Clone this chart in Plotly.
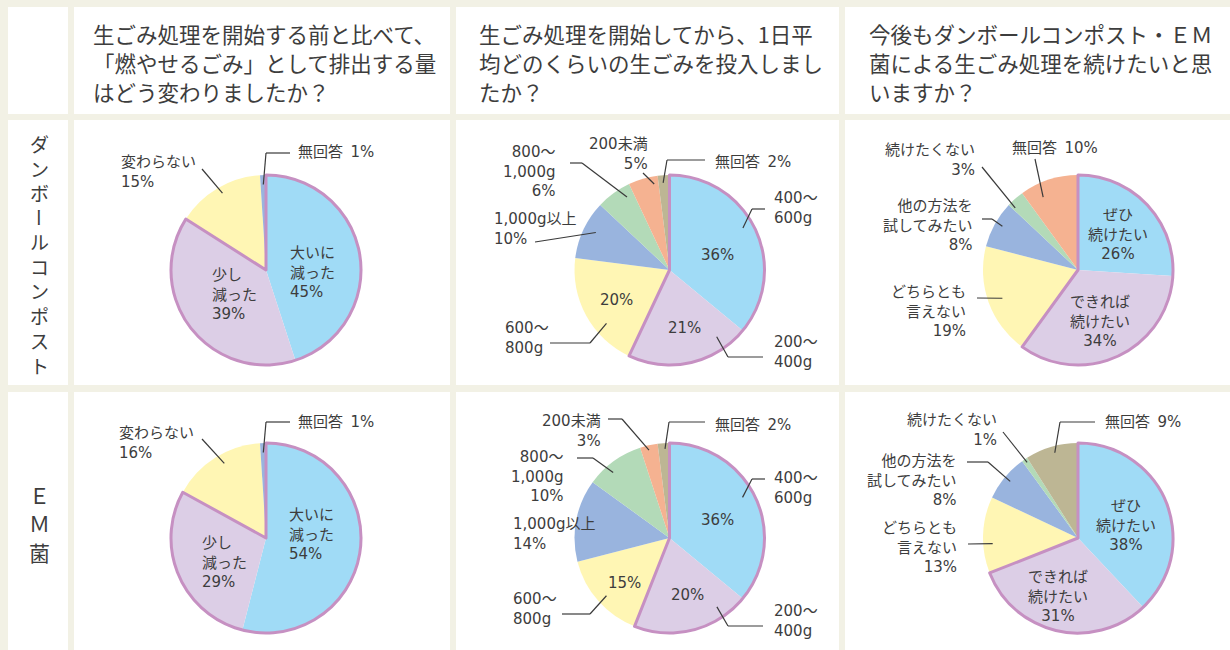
import math
import plotly.graph_objects as go

W, H = 1230, 650

# ---------------- data ----------------
q1_categories = ["大いに減った", "少し減った", "変わらない", "無回答"]
q1_danbo = [45, 39, 15, 1]
q1_em = [54, 29, 16, 1]

q2_categories = ["400～600g", "200～400g", "600～800g", "1,000g以上", "800～1,000g", "200未満", "無回答"]
q2_danbo = [36, 21, 20, 10, 6, 5, 2]
q2_em = [36, 20, 15, 14, 10, 3, 2]

q3_categories = ["ぜひ続けたい", "できれば続けたい", "どちらとも言えない", "他の方法を試してみたい", "続けたくない", "無回答"]
q3_danbo = [26, 34, 19, 8, 3, 10]
q3_em = [38, 31, 13, 8, 1, 9]

questions = [
    ["生ごみ処理を開始する前と比べて、", "「燃やせるごみ」として排出する量", "はどう変わりましたか？"],
    ["生ごみ処理を開始してから、1日平", "均どのくらいの生ごみを投入しまし", "たか？"],
    ["今後もダンボールコンポスト・ＥＭ", "菌による生ごみ処理を続けたいと思", "いますか？"],
]
row_labels = ["ダンボールコンポスト", "ＥＭ菌"]

# ---------------- styles ----------------
BG = "#f2f1e5"
TXT = "#3d3d3d"
LINE = "#3a3a3a"
PURPLE = "#c690c2"
BLUE, LAV, YEL, BLUE2 = "#a0dbf6", "#dccee6", "#fff6b4", "#99b4de"
GREEN, SALMON, KHAKI = "#b3dab8", "#f5b291", "#bdb694"
FONT = "Noto Sans CJK JP"
LABEL_FONT = "DejaVu Sans, Noto Sans CJK JP"
SP = "\u2002"

q1_colors = [BLUE, LAV, YEL, BLUE2]
q2_colors = [BLUE, LAV, YEL, BLUE2, GREEN, SALMON, KHAKI]
q3_colors_danbo = [BLUE, LAV, YEL, BLUE2, GREEN, SALMON]
q3_colors_em = [BLUE, LAV, YEL, BLUE2, GREEN, KHAKI]


def fx(x):
    return x / W


def fy(y):
    return 1 - y / H


def slice_point(cx, cy, r, values, i, t, rf):
    tot = float(sum(values))
    start = sum(values[:i]) / tot * 360.0
    ang = math.radians(start + values[i] / tot * 360.0 * t)
    return cx + r * rf * math.sin(ang), cy - r * rf * math.cos(ang)


R = 95
NA = "無回答" + SP + "{p}%"
pies = [
    # (categories, values, colors, cx, cy, label specs)
    (q1_categories, q1_danbo, q1_colors, 266, 270, [
        dict(i=3, lines=[NA], x=296, y=152, xa="left",
             leader=["A", (266, 153), (290, 153)], t=0.5, rf=0.9),
        dict(i=2, lines=["変わらない", "{p}%"], x=119, y=163, gap=18, xa="left",
             leader=[(202, 169), "A"], t=0.52, rf=0.93),
        dict(i=0, lines=["大いに", "減った", "{p}%"], x=288, y=255, gap=17.5, xa="left"),
        dict(i=1, lines=["少し", "減った", "{p}%"], x=210, y=275, gap=20, xa="left"),
    ]),
    (q1_categories, q1_em, q1_colors, 266, 538, [
        dict(i=3, lines=[NA], x=296, y=422, xa="left",
             leader=["A", (266, 422), (290, 422)], t=0.5, rf=0.9),
        dict(i=2, lines=["変わらない", "{p}%"], x=117, y=433, gap=19, xa="left",
             leader=[(202, 439), "A"], t=0.556, rf=0.9),
        dict(i=0, lines=["大いに", "減った", "{p}%"], x=287, y=515, gap=19, xa="left"),
        dict(i=1, lines=["少し", "減った", "{p}%"], x=200, y=544, gap=18, xa="left"),
    ]),
    (q2_categories, q2_danbo, q2_colors, 669.5, 270, [
        dict(i=5, lines=["200未満", "{p}%"], x=650, y=145, gap=18, xa="right",
             leader=[(643, 173), "A"], t=0.84, rf=0.92),
        dict(i=6, lines=[NA], x=713, y=162, xa="left",
             leader=["A", (667, 160), (705, 160)], t=0.42, rf=0.92),
        dict(i=4, lines=["800～", "1,000g", "{p}%"], x=557, y=152, gap=19, xa="right",
             leader=[(570, 163), (582, 163), "A"], t=0.77, rf=0.89),
        dict(i=3, lines=["1,000g以上", "{p}%"], x=492, y=220, gap=18, xa="left",
             leader=[(535, 242), "A"], t=0.55, rf=0.87),
        dict(i=0, lines=["400～", "600g"], x=772, y=200, gap=17, xa="left",
             leader=["A", (752, 209), (765, 209)], t=0.465, rf=0.89),
        dict(i=0, lines=["{p}%"], x=717, y=255, xa="center"),
        dict(i=2, lines=["{p}%"], x=616, y=300, xa="center"),
        dict(i=1, lines=["{p}%"], x=684, y=328, xa="center"),
        dict(i=2, lines=["600～", "800g"], x=503, y=329, gap=18, xa="left",
             leader=[(550, 343), (590, 343), "A"], t=0.34, rf=0.87),
        dict(i=1, lines=["200～", "400g"], x=772, y=343, gap=17, xa="left",
             leader=["A", (728, 357), (763, 357)], t=0.2, rf=0.86),
    ]),
    (q2_categories, q2_em, q2_colors, 669.5, 538, [
        dict(i=5, lines=["200未満", "{p}%"], x=603, y=422, gap=17, xa="right",
             leader=[(608, 419), (622, 419), "A"], t=0.45, rf=0.95),
        dict(i=6, lines=[NA], x=713, y=425, xa="left",
             leader=["A", (669, 422), (705, 422)], t=0.6, rf=0.94),
        dict(i=4, lines=["800～", "1,000g", "{p}%"], x=565, y=457, gap=19, xa="right",
             leader=[(577, 458), (593, 458), "A"], t=0.37, rf=0.91),
        dict(i=3, lines=["1,000g以上", "{p}%"], x=511, y=525, gap=18, xa="left"),
        dict(i=0, lines=["400～", "600g"], x=772, y=479, gap=18, xa="left",
             leader=["A", (752, 479), (765, 479)], t=0.47, rf=0.88),
        dict(i=0, lines=["{p}%"], x=717, y=520, xa="center"),
        dict(i=2, lines=["{p}%"], x=624, y=583, xa="center"),
        dict(i=1, lines=["{p}%"], x=687, y=595, xa="center"),
        dict(i=2, lines=["600～", "800g"], x=511, y=599, gap=19, xa="left",
             leader=[(562, 614), (590, 614), "A"], t=0.48, rf=0.9),
        dict(i=1, lines=["200～", "400g"], x=772, y=612, gap=17, xa="left",
             leader=["A", (728, 626), (763, 626)], t=0.22, rf=0.88),
    ]),
    (q3_categories, q3_danbo, q3_colors_danbo, 1078, 270, [
        dict(i=4, lines=["続けたくない", "{p}%"], x=977, y=150, gap=19, xa="right",
             leader=[(982, 167), "A"], t=0.14, rf=0.93),
        dict(i=5, lines=[NA], x=1010, y=148, xa="left",
             leader=[(1035, 159), "A"], t=0.29, rf=0.85),
        dict(i=3, lines=["他の方法を", "試してみたい", "{p}%"], x=975, y=207, gap=18, xa="right",
             leader=[(982, 219), (992, 219), "A"], t=0.545, rf=0.92),
        dict(i=2, lines=["どちらとも", "言えない", "{p}%"], x=968, y=294, gap=17.5, xa="right",
             leader=[(977, 298), "A"], t=0.49, rf=0.85),
        dict(i=0, lines=["ぜひ", "続けたい", "{p}%"], x=1118, y=215, gap=19, xa="center"),
        dict(i=1, lines=["できれば", "続けたい", "{p}%"], x=1100, y=302, gap=19, xa="center"),
    ]),
    (q3_categories, q3_em, q3_colors_em, 1078, 538, [
        dict(i=4, lines=["続けたくない", "{p}%"], x=999, y=421, gap=17, xa="right",
             leader=[(1003, 432), "A"], t=0.58, rf=0.96),
        dict(i=5, lines=[NA], x=1103, y=422, xa="left",
             leader=["A", (1060, 422), (1095, 422)], t=0.53, rf=0.93),
        dict(i=3, lines=["他の方法を", "試してみたい", "{p}%"], x=959, y=463, gap=17.5, xa="right",
             leader=[(967, 462), (988, 462), "A"], t=0.51, rf=0.93),
        dict(i=2, lines=["どちらとも", "言えない", "{p}%"], x=959, y=530, gap=17, xa="right",
             leader=[(968, 544), "A"], t=0.38, rf=0.9),
        dict(i=0, lines=["ぜひ", "続けたい", "{p}%"], x=1126, y=507, gap=18, xa="center"),
        dict(i=1, lines=["できれば", "続けたい", "{p}%"], x=1058, y=578, gap=18.5, xa="center"),
    ]),
]

fig = go.Figure()
shapes = []
annotations = []

# panels (white boxes on beige)
col_edges = [(8, 68), (74, 450), (456, 839), (845, 1232)]
row_edges = [(7, 114), (120, 385), (392, 652)]
for (x0, x1) in col_edges:
    for (y0, y1) in row_edges:
        shapes.append(dict(type="rect", xref="paper", yref="paper",
                           x0=fx(x0), x1=fx(x1), y0=fy(y1), y1=fy(y0),
                           fillcolor="white", line=dict(width=0), layer="below"))

# headers (one annotation per line, 29px line pitch)
for q, x in zip(questions, [91, 477, 867]):
    for j, ln in enumerate(q):
        annotations.append(dict(x=fx(x), y=fy(34 + 29 * j), xref="paper", yref="paper",
                                text=ln, showarrow=False, xanchor="left", yanchor="middle",
                                align="left", font=dict(family=FONT, size=21.5, color=TXT)))

# row labels (vertical text); the long-vowel mark is turned upright as in vertical writing
ROW_SIZE = 19
step = ROW_SIZE * 1.3
lab = row_labels[0]
k = lab.index("ー")
start = 254 - (len(lab) - 1) / 2 * step
parts = [(lab[:k], 0), (lab[k], k), (lab[k + 1:], k + 1)]
for txt, first in parts:
    n = len(txt)
    yc = start + (first + (n - 1) / 2) * step
    annotations.append(dict(x=fx(39), y=fy(yc), xref="paper", yref="paper",
                            text="<br>".join(txt), showarrow=False,
                            xanchor="center", yanchor="middle", align="center",
                            textangle=90 if txt == "ー" else 0,
                            font=dict(family=FONT, size=ROW_SIZE, color=TXT)))
lab2 = row_labels[1]
for j, ch in enumerate(lab2):
    annotations.append(dict(x=fx(39), y=fy(523 + (j - (len(lab2) - 1) / 2) * 28.5),
                            xref="paper", yref="paper", text=ch, showarrow=False,
                            xanchor="center", yanchor="middle",
                            font=dict(family=FONT, size=21, color=TXT)))

# pies
for cats, vals, cols, cx, cy, specs in pies:
    dom = dict(x=[fx(cx - R), fx(cx + R)], y=[fy(cy + R), fy(cy - R)])
    fig.add_trace(go.Pie(labels=cats, values=vals, sort=False, direction="clockwise",
                         rotation=0, textinfo="none", domain=dom,
                         marker=dict(colors=cols, line=dict(width=0)),
                         hoverinfo="label+percent", showlegend=False))
    # outline around the first two slices
    ov_vals = [vals[0] + vals[1]] + list(vals[2:])
    fig.add_trace(go.Pie(labels=["o%d" % j for j in range(len(ov_vals))], values=ov_vals,
                         sort=False, direction="clockwise", rotation=0, textinfo="none",
                         domain=dom, hoverinfo="skip", showlegend=False,
                         marker=dict(colors=["rgba(0,0,0,0)"] * len(ov_vals),
                                     line=dict(color=PURPLE,
                                               width=[3] + [0] * (len(ov_vals) - 1)))))
    for s in specs:
        p = vals[s["i"]]
        gap = s.get("gap", 18)
        n = len(s["lines"])
        yc = s["y"] + (n - 1) * gap / 2
        annotations.append(dict(x=fx(s["x"]), y=fy(yc), xref="paper", yref="paper",
                                text="<br>".join(ln.format(p=p) for ln in s["lines"]),
                                showarrow=False, xanchor=s["xa"], yanchor="middle",
                                align=s["xa"],
                                font=dict(family=LABEL_FONT, size=15, color=TXT)))
        if "leader" in s:
            pts = []
            for q in s["leader"]:
                if q == "A":
                    pts.append(slice_point(cx, cy, R, vals, s["i"], s["t"], s["rf"]))
                else:
                    pts.append(q)
            for a, b in zip(pts[:-1], pts[1:]):
                shapes.append(dict(type="line", xref="paper", yref="paper",
                                   x0=fx(a[0]), y0=fy(a[1]), x1=fx(b[0]), y1=fy(b[1]),
                                   line=dict(color=LINE, width=1.2), layer="above"))

fig.update_layout(width=W, height=H, margin=dict(l=0, r=0, t=0, b=0),
                  paper_bgcolor=BG, plot_bgcolor=BG,
                  shapes=shapes, annotations=annotations, showlegend=False,
                  font=dict(family=FONT, color=TXT))

fig.write_html("out.html", config={"displayModeBar": False},
               post_script="document.body.style.margin='0';")
